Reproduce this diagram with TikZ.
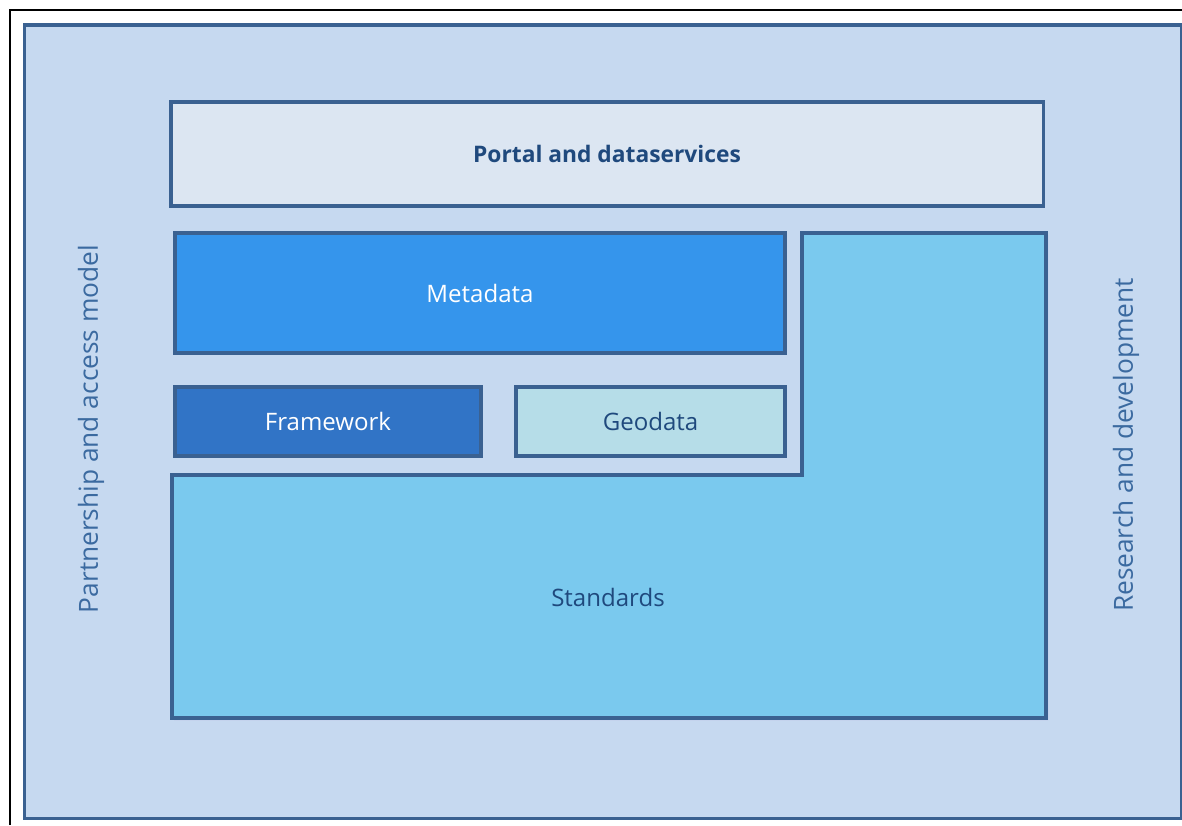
\documentclass[tikz,border=0pt]{standalone}
\usepackage{fontspec}
\setmainfont{Open Sans}
\usetikzlibrary{shadows}

\definecolor{bgblue}{HTML}{C6D9F0}
\definecolor{edgeblue}{HTML}{3A6191}
\definecolor{portalfill}{HTML}{DCE6F2}
\definecolor{metafill}{HTML}{3595EC}
\definecolor{framefill}{HTML}{3174C6}
\definecolor{geofill}{HTML}{B6DDE8}
\definecolor{stdfill}{HTML}{7AC9EE}
\definecolor{textblue}{HTML}{1F497D}
\definecolor{sideblue}{HTML}{3B6AA0}

\begin{document}
\begin{tikzpicture}[x=0.025cm, y=-0.025cm]
	\useasboundingbox (0,0) rectangle (1182,825);
	\tikzstyle{layer}=[draw=edgeblue, line width=2.3pt, rectangle, inner sep=0pt,
		drop shadow={shadow xshift=0.05cm, shadow yshift=-0.05cm, fill=violet!70, opacity=0.3}]
	\tikzstyle{boxtext}=[font=\fontsize{17.1}{20}\selectfont]
	\tikzstyle{sidetext}=[font=\fontsize{18.7}{24}\selectfont, text=sideblue, rotate=90]

	% frame and background
	\draw[black, line width=1pt] (10,825) -- (10,10) -- (1182,10);
	\node[draw=edgeblue, fill=bgblue, line width=2.3pt, rectangle, inner sep=0pt,
		minimum width=28.9cm, minimum height=19.825cm] (bg) at (603,421.5) {};

	% layers
	\node[layer, fill=portalfill, minimum width=21.8cm, minimum height=2.6cm,
		text=textblue, font=\fontsize{16.2}{20}\selectfont\bfseries] (portal) at (607,154) {Portal and dataservices};
	\node[layer, fill=metafill, minimum width=15.25cm, minimum height=3cm,
		boxtext, text=white] (meta) at (480,293) {Metadata};
	\node[layer, fill=framefill, minimum width=7.65cm, minimum height=1.725cm,
		boxtext, text=white] (frame) at (328,421.5) {Framework};
	\node[layer, fill=geofill, minimum width=6.725cm, minimum height=1.725cm,
		boxtext, text=textblue] (geo) at (650.5,421.5) {Geodata};

	\draw[draw=edgeblue, line width=2.3pt, fill=stdfill, line join=miter,
		drop shadow={shadow xshift=0.05cm, shadow yshift=-0.05cm, fill=violet!70, opacity=0.3}]
		(172,475) -- (802,475) -- (802,233) -- (1046,233) -- (1046,718) -- (172,718) -- cycle;
	\node[boxtext, text=textblue] (std) at (608,597) {Standards};

	% side labels
	\node[sidetext] (partner) at (91,429) {Partnership and access model};
	\node[sidetext] (research) at (1126,445) {Research and development};
\end{tikzpicture}
\end{document}
